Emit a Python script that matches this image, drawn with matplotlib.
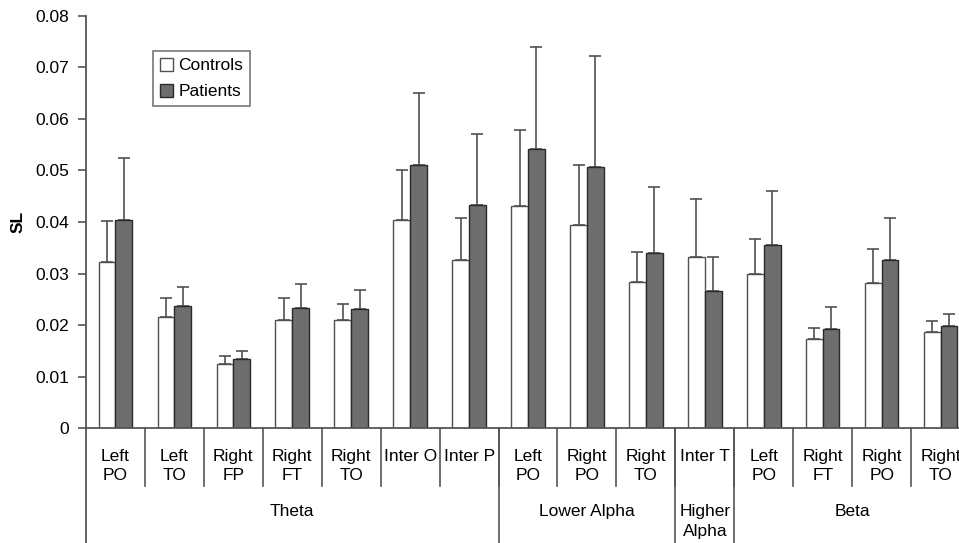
import matplotlib
matplotlib.use('Agg')
import matplotlib.pyplot as plt
import numpy as np

plt.rcParams['font.family'] = ['Liberation Sans', 'DejaVu Sans']

# Valeurs
categories = ['Left\nPO', 'Left\nTO', 'Right\nFP', 'Right\nFT', 'Right\nTO', 'Inter O', 'Inter P',
              'Left\nPO', 'Right\nPO', 'Right\nTO',
              'Inter T',
              'Left\nPO', 'Right\nFT', 'Right\nPO', 'Right\nTO']
controls = [0.0323, 0.0215, 0.0124, 0.0210, 0.0209, 0.0404, 0.0326,
            0.0430, 0.0395, 0.0284, 0.0332, 0.0299, 0.0173, 0.0282, 0.0187]
controls_top = [0.0402, 0.0252, 0.0140, 0.0252, 0.0240, 0.0501, 0.0408,
                0.0578, 0.0510, 0.0342, 0.0445, 0.0366, 0.0194, 0.0348, 0.0208]
patients = [0.0404, 0.0238, 0.0134, 0.0233, 0.0231, 0.0510, 0.0433,
            0.0541, 0.0506, 0.0340, 0.0266, 0.0355, 0.0192, 0.0326, 0.0199]
patients_top = [0.0523, 0.0273, 0.0150, 0.0280, 0.0269, 0.0649, 0.0571,
                0.0739, 0.0722, 0.0468, 0.0333, 0.0460, 0.0235, 0.0407, 0.0222]
bands = ['Theta', 'Lower Alpha', 'Higher\nAlpha', 'Beta']
band_sizes = [7, 3, 1, 4]

controls = np.array(controls); patients = np.array(patients)
err_c = np.array(controls_top) - controls
err_p = np.array(patients_top) - patients

fig = plt.figure(figsize=(9.59, 5.43), dpi=100)
# l'axe depasse a droite comme sur l'original (derniere colonne coupee)
ax = fig.add_axes([0.0897, 0.2112, 0.9218, 0.7601])

x = np.arange(len(categories)) + 0.5
w = 0.285
fs = 12.5
gray = '#555555'

ax.bar(x - w/2, controls, w, color='white', edgecolor='#505050', lw=1.0, label='Controls', zorder=2)
ax.bar(x + w/2, patients, w, color='#6e6e6e', edgecolor='#2a2a2a', lw=1.0, label='Patients', zorder=2)
ax.errorbar(x - w/2, controls, yerr=[np.zeros_like(err_c), err_c], fmt='none',
            ecolor='#505050', elinewidth=1.2, capsize=4, capthick=1.2, zorder=1)
ax.errorbar(x + w/2, patients, yerr=[np.zeros_like(err_p), err_p], fmt='none',
            ecolor='#505050', elinewidth=1.2, capsize=4, capthick=1.2, zorder=1)

ax.set_xlim(0, len(categories))
ax.set_ylim(0, 0.08)
ax.set_yticks(np.arange(0, 0.081, 0.01))
ax.set_yticklabels(['0' if i == 0 else '%.2f' % (i * 0.01) for i in range(9)], fontsize=fs)
ax.set_xticks([])
ax.tick_params(axis='y', length=6, width=1.2, color=gray, pad=6)
for s in ['top', 'right']:
    ax.spines[s].set_visible(False)
for s in ['left', 'bottom']:
    ax.spines[s].set_color(gray)
    ax.spines[s].set_linewidth(1.3)
ax.set_ylabel('SL', fontsize=fs, fontweight='bold', labelpad=7)

# Etiquettes a deux niveaux sous l'axe
tr = ax.get_xaxis_transform()
for i, lab in enumerate(categories):
    ax.text(i + 0.5, -0.049, lab, transform=tr, ha='center', va='top',
            fontsize=fs, linespacing=1.4)
    ax.plot([i + 1, i + 1], [0, -0.14], transform=tr, color=gray, lw=1.2, clip_on=False)
start = 0
ax.plot([0, 0], [0, -0.277], transform=tr, color=gray, lw=1.3, clip_on=False)
for band, n in zip(bands, band_sizes):
    ax.text(start + n / 2, -0.184, band, transform=tr, ha='center', va='top',
            fontsize=fs, linespacing=1.4)
    start += n
    ax.plot([start, start], [0, -0.277], transform=tr, color=gray, lw=1.2, clip_on=False)

leg = ax.legend(loc='upper left', bbox_to_anchor=(0.0758, 0.914), borderaxespad=0,
                fancybox=False, edgecolor=gray, fontsize=fs, handlelength=0.75,
                handleheight=0.75, handletextpad=0.3, borderpad=0.4, labelspacing=0.6)
leg.get_frame().set_linewidth(1.2)

plt.savefig('out.png', dpi=100)
